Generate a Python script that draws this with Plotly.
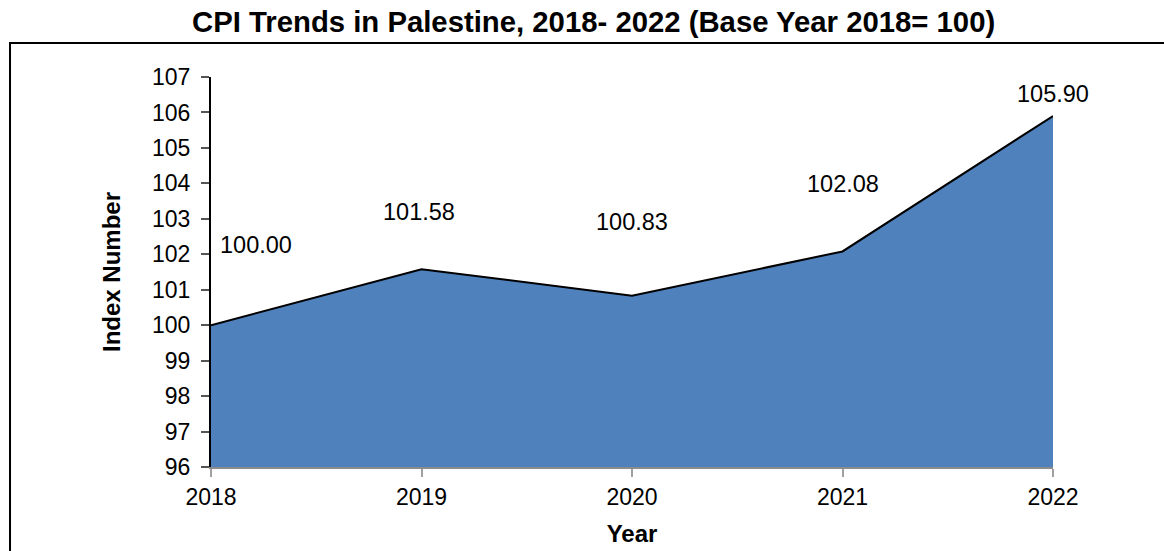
import plotly.graph_objects as go

years = [2018, 2019, 2020, 2021, 2022]
cpi = [100.00, 101.58, 100.83, 102.08, 105.90]
label_text = ["100.00", "101.58", "100.83", "102.08", "105.90"]
label_shift = [80, 57, 74, 67, 22]
label_xshift = [45, -3, 0, 0, 0]
y_ticks = list(range(96, 108))

FONT = "Liberation Sans, Arial"

fig = go.Figure()
fig.add_trace(go.Scatter(
    x=years, y=cpi, mode="lines", fill="tozeroy",
    fillcolor="#4F81BD", line=dict(color="black", width=2),
    hoverinfo="skip", showlegend=False,
))

for x, y, t, s, xs in zip(years, cpi, label_text, label_shift, label_xshift):
    fig.add_annotation(x=x, y=y, text=t, showarrow=False, yshift=s, xshift=xs,
                       font=dict(family=FONT, size=23.5, color="black"))

fig.add_shape(type="rect", xref="paper", yref="paper",
              x0=-0.2387, x1=1.3, y0=-0.4, y1=1.0872,
              line=dict(color="black", width=2), fillcolor="rgba(0,0,0,0)", layer="below")

fig.update_layout(
    width=1164, height=551,
    margin=dict(l=211, r=111, t=77, b=84),
    plot_bgcolor="white", paper_bgcolor="white",
    font=dict(family=FONT, color="black"),
    title=dict(text="<b>CPI Trends in Palestine, 2018- 2022 (Base Year 2018= 100)</b>",
               x=0.51, xref="container", xanchor="center", y=0.96, yanchor="middle",
               font=dict(size=29.3, color="black")),
    xaxis=dict(range=[2018, 2022], tickvals=years, ticktext=[str(y) for y in years],
               showgrid=False, zeroline=False, showline=True, linecolor="#8c8c8c", linewidth=2,
               ticks="outside", ticklen=8, tickcolor="#a0a0a0", tickwidth=2,
               tickfont=dict(size=23), automargin=False,
               title=dict(text="<b>Year</b>", font=dict(size=24), standoff=17)),
    yaxis=dict(range=[96, 107], tickvals=y_ticks, showgrid=False, zeroline=False,
               showline=True, linecolor="black", linewidth=2,
               ticks="outside", ticklen=8, tickcolor="#555555", tickwidth=1.5,
               ticklabelstandoff=6, automargin=False,
               tickfont=dict(size=23),
               title=dict(text="<b>Index Number</b>", font=dict(size=24), standoff=25)),
)

fig.write_html("out.html", config={"displayModeBar": False},
               post_script="document.body.style.margin='0';")
